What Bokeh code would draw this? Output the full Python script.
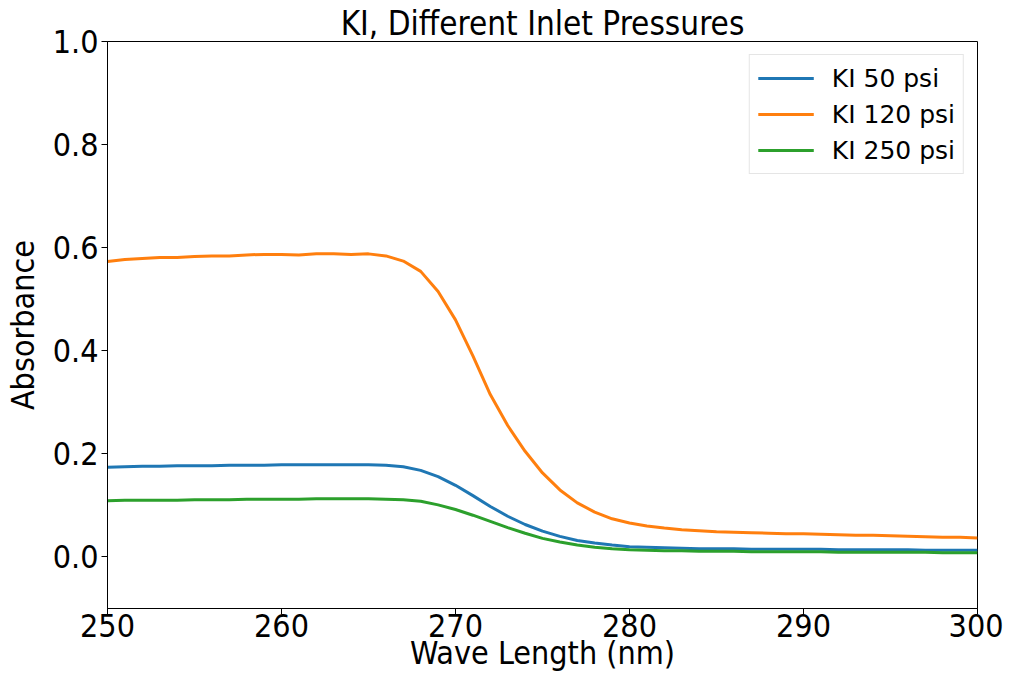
from bokeh.plotting import figure
from bokeh.models import Range1d, FixedTicker, PrintfTickFormatter, Legend, LegendItem
from bokeh.embed import file_html
from bokeh.resources import INLINE

wavelength = list(range(250, 301))

ki_50 = [0.174, 0.175, 0.176, 0.176, 0.177, 0.177, 0.177, 0.178, 0.178, 0.178,
         0.179, 0.179, 0.179, 0.179, 0.179, 0.179, 0.178, 0.175, 0.168, 0.156,
         0.139, 0.119, 0.098, 0.079, 0.063, 0.050, 0.040, 0.032, 0.027, 0.023,
         0.020, 0.019, 0.018, 0.017, 0.016, 0.016, 0.016, 0.015, 0.015, 0.015,
         0.015, 0.015, 0.014, 0.014, 0.014, 0.014, 0.014, 0.013, 0.013, 0.013, 0.013]

ki_120 = [0.573, 0.577, 0.579, 0.581, 0.581, 0.583, 0.584, 0.584, 0.586, 0.587,
          0.587, 0.586, 0.588, 0.588, 0.587, 0.588, 0.584, 0.574, 0.554, 0.515,
          0.460, 0.390, 0.315, 0.255, 0.205, 0.163, 0.130, 0.105, 0.087, 0.074,
          0.066, 0.060, 0.056, 0.053, 0.051, 0.049, 0.048, 0.047, 0.046, 0.045,
          0.045, 0.044, 0.043, 0.042, 0.042, 0.041, 0.040, 0.039, 0.038, 0.038, 0.037]

ki_250 = [0.109, 0.110, 0.110, 0.110, 0.110, 0.111, 0.111, 0.111, 0.112, 0.112,
          0.112, 0.112, 0.113, 0.113, 0.113, 0.113, 0.112, 0.111, 0.108, 0.101,
          0.092, 0.081, 0.069, 0.057, 0.046, 0.036, 0.029, 0.023, 0.019, 0.016,
          0.014, 0.013, 0.012, 0.012, 0.011, 0.011, 0.011, 0.010, 0.010, 0.010,
          0.010, 0.010, 0.009, 0.009, 0.009, 0.009, 0.009, 0.009, 0.008, 0.008, 0.008]

series_names = ["KI 50 psi", "KI 120 psi", "KI 250 psi"]
series_colors = ["#1f77b4", "#ff7f0e", "#2ca02c"]
x_ticks = [250, 260, 270, 280, 290, 300]
y_ticks = [0.0, 0.2, 0.4, 0.6, 0.8, 1.0]

FONT = "DejaVu Sans"
FONT_AX = "DejaVu Sans Condensed, DejaVu Sans"

p = figure(frame_width=870, frame_height=567,
           x_range=Range1d(250, 300), y_range=Range1d(-0.1, 1.0),
           output_backend="svg", toolbar_location=None,
           min_border_left=100, min_border_right=26,
           min_border_top=41, min_border_bottom=61,
           title="KI, Different Inlet Pressures")

p.title.text_font = FONT_AX
p.title.text_font_size = "33px"
p.title.text_font_style = "normal"
p.title.text_color = "black"
p.title.align = "center"
p.title.standoff = -2
p.title.offset = 0

p.grid.visible = False
p.outline_line_color = "black"
p.outline_line_width = 1
p.background_fill_color = "white"

for ax in (p.xaxis[0], p.yaxis[0]):
    ax.axis_line_color = "black"
    ax.major_tick_line_color = "black"
    ax.minor_tick_line_color = None
    ax.major_tick_out = 6
    ax.major_tick_in = 0
    ax.major_label_text_font = FONT_AX
    ax.major_label_text_font_size = "32px"
    ax.major_label_text_color = "black"
    ax.axis_label_text_font = FONT_AX
    ax.axis_label_text_font_size = "32px"
    ax.axis_label_text_font_style = "normal"
    ax.axis_label_text_color = "black"

p.xaxis.ticker = FixedTicker(ticks=x_ticks)
p.yaxis.ticker = FixedTicker(ticks=y_ticks)
p.yaxis.formatter = PrintfTickFormatter(format="%.1f")
p.xaxis.axis_label = "Wave Length (nm)"
p.yaxis.axis_label = "Absorbance"
p.xaxis.major_label_standoff = -1
p.xaxis.axis_label_standoff = -6
p.yaxis.major_label_standoff = 3
p.yaxis.axis_label_standoff = 8

items = []
for name, ys, col in zip(series_names, [ki_50, ki_120, ki_250], series_colors):
    r = p.line(wavelength, ys, line_color=col, line_width=3)
    items.append(LegendItem(label=name, renderers=[r]))

legend = Legend(items=items, location="top_right")
legend.label_text_font = FONT
legend.label_text_font_size = "25px"
legend.label_text_color = "black"
legend.glyph_width = 56
legend.glyph_height = 30
legend.label_height = 30
legend.spacing = 6
legend.label_standoff = 18
legend.padding = 8
legend.margin = 13
legend.border_line_color = "#cccccc"
legend.border_line_width = 1
legend.background_fill_alpha = 0.8
p.add_layout(legend)

open("out.html", "w").write(file_html(p, INLINE))
